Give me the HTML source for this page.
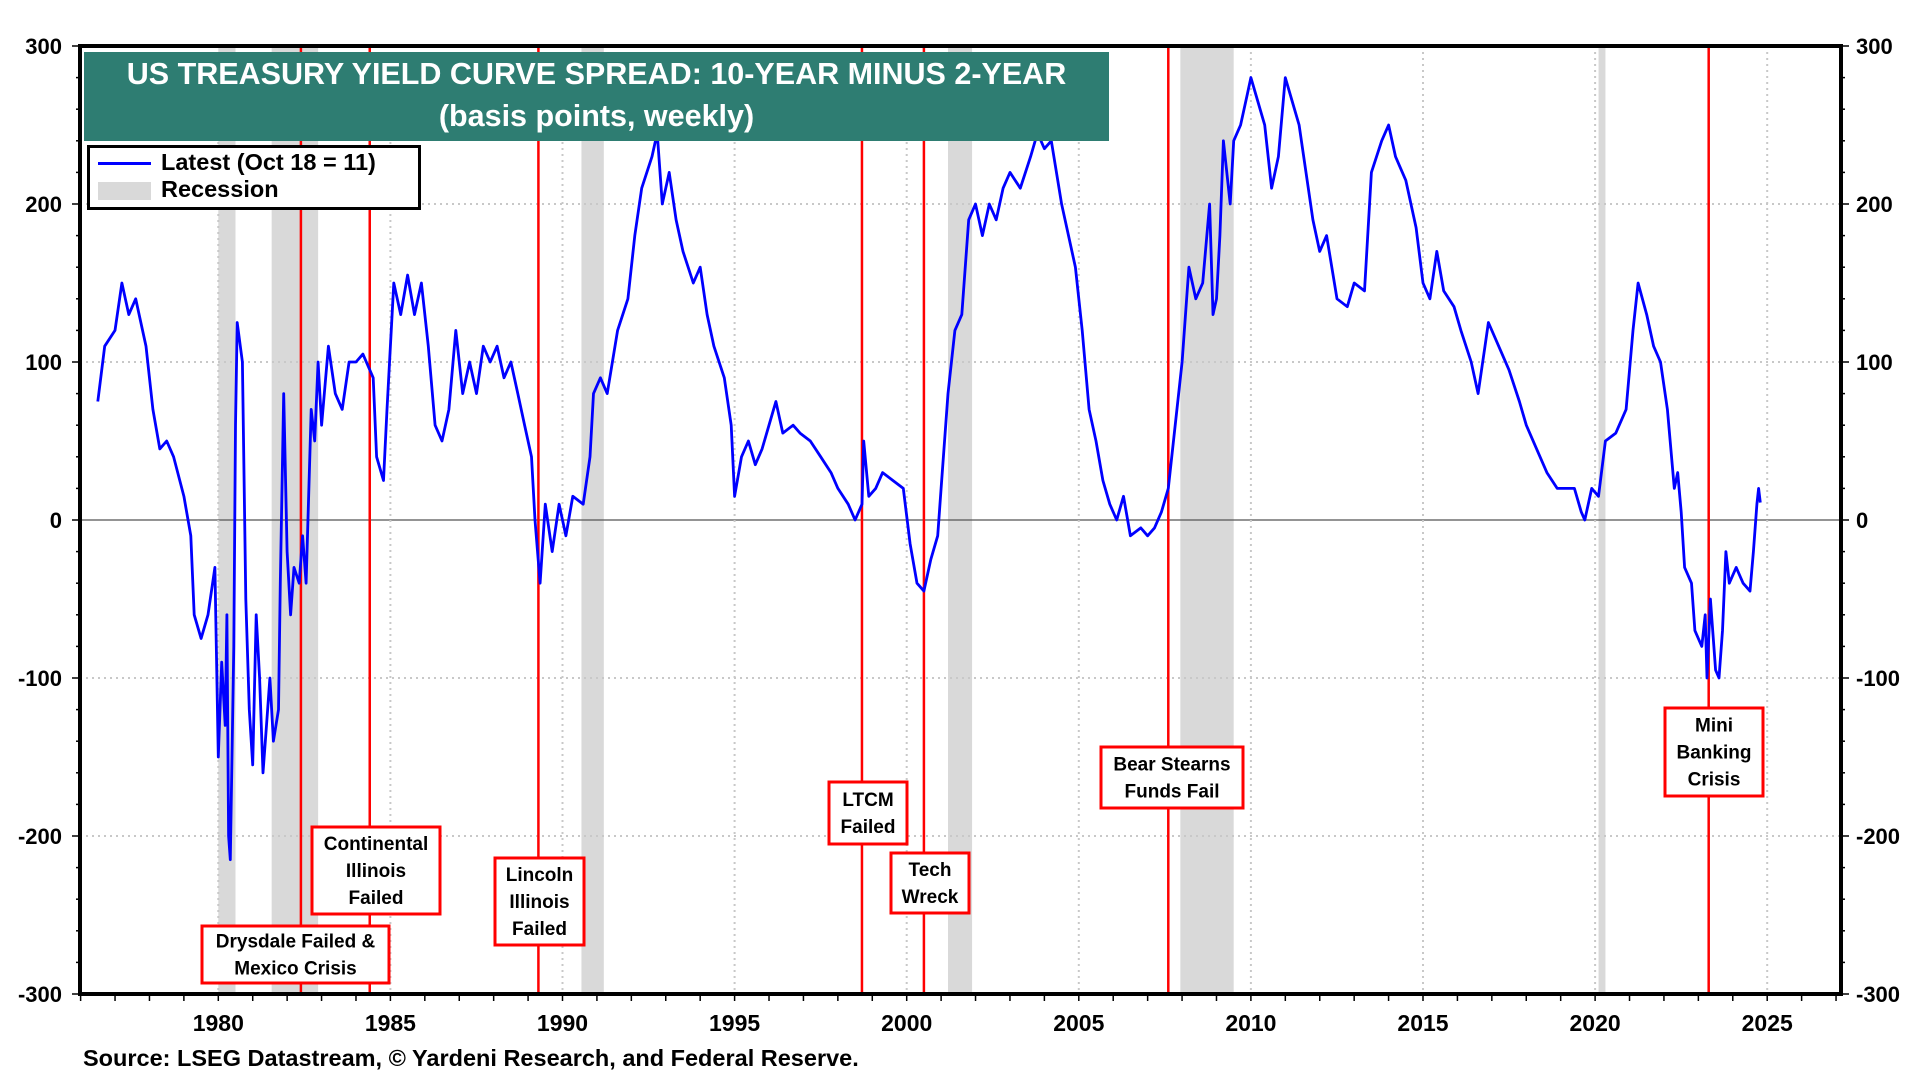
<!DOCTYPE html>
<html><head><meta charset="utf-8"><style>
html,body{margin:0;padding:0;background:#fff;width:1920px;height:1080px;overflow:hidden}
svg{display:block}
text{font-family:"Liberation Sans",Arial,sans-serif;font-weight:bold}
</style></head><body>
<svg id="chart" width="1920" height="1080"></svg>
<script>
const years=[1976.5,1976.7,1977.0,1977.2,1977.4,1977.6,1977.9,1978.1,1978.3,1978.5,1978.7,1979.0,1979.2,1979.3,1979.5,1979.7,1979.9,1980.0,1980.1,1980.2,1980.25,1980.3,1980.35,1980.45,1980.5,1980.55,1980.7,1980.8,1980.9,1981.0,1981.1,1981.2,1981.3,1981.4,1981.5,1981.6,1981.75,1981.8,1981.9,1982.0,1982.1,1982.2,1982.35,1982.45,1982.55,1982.7,1982.8,1982.9,1983.0,1983.2,1983.4,1983.6,1983.8,1984.0,1984.2,1984.5,1984.6,1984.8,1984.9,1985.1,1985.3,1985.5,1985.7,1985.9,1986.1,1986.3,1986.5,1986.7,1986.9,1987.1,1987.3,1987.5,1987.7,1987.9,1988.1,1988.3,1988.5,1988.7,1988.9,1989.1,1989.2,1989.35,1989.5,1989.7,1989.9,1990.1,1990.3,1990.6,1990.8,1990.9,1991.1,1991.3,1991.6,1991.9,1992.1,1992.3,1992.6,1992.75,1992.9,1993.1,1993.3,1993.5,1993.8,1994.0,1994.2,1994.4,1994.7,1994.9,1995.0,1995.2,1995.4,1995.6,1995.8,1996.0,1996.2,1996.4,1996.7,1996.9,1997.2,1997.5,1997.8,1998.0,1998.3,1998.5,1998.7,1998.75,1998.9,1999.1,1999.3,1999.6,1999.9,2000.1,2000.3,2000.5,2000.7,2000.9,2001.0,2001.2,2001.4,2001.6,2001.8,2002.0,2002.2,2002.4,2002.6,2002.8,2003.0,2003.3,2003.6,2003.8,2004.0,2004.2,2004.5,2004.7,2004.9,2005.1,2005.3,2005.5,2005.7,2005.9,2006.1,2006.3,2006.5,2006.8,2007.0,2007.2,2007.4,2007.6,2007.8,2008.0,2008.2,2008.4,2008.6,2008.8,2008.9,2009.0,2009.1,2009.2,2009.4,2009.5,2009.7,2009.9,2010.0,2010.2,2010.4,2010.6,2010.8,2011.0,2011.2,2011.4,2011.6,2011.8,2012.0,2012.2,2012.5,2012.8,2013.0,2013.3,2013.5,2013.8,2014.0,2014.2,2014.5,2014.8,2015.0,2015.2,2015.4,2015.6,2015.9,2016.1,2016.4,2016.6,2016.8,2016.9,2017.2,2017.5,2017.8,2018.0,2018.3,2018.6,2018.9,2019.1,2019.4,2019.6,2019.7,2019.9,2020.1,2020.3,2020.6,2020.9,2021.1,2021.25,2021.5,2021.7,2021.9,2022.1,2022.3,2022.4,2022.5,2022.6,2022.8,2022.9,2023.1,2023.2,2023.25,2023.35,2023.5,2023.6,2023.7,2023.8,2023.9,2024.1,2024.3,2024.5,2024.6,2024.7,2024.75,2024.8];
const spread=[75,110,120,150,130,140,110,70,45,50,40,15,-10,-60,-75,-60,-30,-150,-90,-130,-60,-200,-215,-80,60,125,100,-50,-120,-155,-60,-100,-160,-130,-100,-140,-120,-40,80,-20,-60,-30,-40,-10,-40,70,50,100,60,110,80,70,100,100,105,90,40,25,70,150,130,155,130,150,110,60,50,70,120,80,100,80,110,100,110,90,100,80,60,40,0,-40,10,-20,10,-10,15,10,40,80,90,80,120,140,180,210,230,245,200,220,190,170,150,160,130,110,90,60,15,40,50,35,45,60,75,55,60,55,50,40,30,20,10,0,10,50,15,20,30,25,20,-15,-40,-45,-25,-10,20,80,120,130,190,200,180,200,190,210,220,210,230,245,235,240,200,180,160,120,70,50,25,10,0,15,-10,-5,-10,-5,5,20,60,100,160,140,150,200,130,140,180,240,200,240,250,270,280,265,250,210,230,280,265,250,220,190,170,180,140,135,150,145,220,240,250,230,215,185,150,140,170,145,135,120,100,80,110,125,110,95,75,60,45,30,20,20,20,5,0,20,15,50,55,70,120,150,130,110,100,70,20,30,5,-30,-40,-70,-80,-60,-100,-50,-95,-100,-70,-20,-40,-30,-40,-45,-20,10,20,11];
const yTicks=[300,200,100,0,-100,-200,-300];
const xTicks=[1980,1985,1990,1995,2000,2005,2010,2015,2020,2025];
const recStart=[1980.0,1981.55,1990.55,2001.2,2007.95,2020.1];
const recEnd=[1980.5,1982.9,1991.2,2001.9,2009.5,2020.3];
const eventYears=[1982.4,1984.4,1989.3,1998.7,2000.5,2007.6,2023.3];
const eventLabels=[["Drysdale Failed &","Mexico Crisis"],["Continental","Illinois","Failed"],["Lincoln","Illinois","Failed"],["LTCM","Failed"],["Tech","Wreck"],["Bear Stearns","Funds Fail"],["Mini","Banking","Crisis"]];
const eventNames=['drysdale','continental-illinois','lincoln-illinois','ltcm','tech-wreck','bear-stearns','mini-banking-crisis'];
// annotation box layout (pixels)
const boxLayout=[[202,926,187,57],[312,827,128,87],[495,858,89,87],[829,782,78,62],[891,853,78,60],[1101,747,142,61],[1665,708,98,88]];

const L=80,R=1841,T=46,B=994;
const X=y=>218.3+(y-1980)*34.42;
const Y=v=>T+(300-v)*(B-T)/600;
const svg=document.getElementById('chart');
const NS='http://www.w3.org/2000/svg';
function mk(tag,attrs,parent){const e=document.createElementNS(NS,tag);for(const k in attrs)e.setAttribute(k,attrs[k]);(parent||svg).appendChild(e);return e;}

recStart.forEach((s,i)=>{const r=mk('rect',{x:X(s),y:T,width:X(recEnd[i])-X(s),height:B-T,fill:'#d9d9d9'});

});
yTicks.forEach(v=>{if(v===300||v===-300)return;const l=mk('line',{x1:L,x2:R,y1:Y(v),y2:Y(v),stroke:v===0?'#555':'#c8c8c8','stroke-width':v===0?1.2:2,'stroke-dasharray':v===0?'none':'2,4'});

});
xTicks.forEach(t=>{const l=mk('line',{x1:X(t),x2:X(t),y1:T,y2:B,stroke:'#c8c8c8','stroke-width':2,'stroke-dasharray':'2,4'});

});
eventYears.forEach((e,i)=>{const l=mk('line',{x1:X(e),x2:X(e),y1:T,y2:B,stroke:'#ff0000','stroke-width':2.5});

});
let d='';years.forEach((y,i)=>{d+=(i?'L':'M')+X(y).toFixed(1)+','+Y(spread[i]).toFixed(1);});
const p=mk('path',{d:d,fill:'none',stroke:'#0000ff','stroke-width':2.8,'stroke-linejoin':'round'});


eventYears.forEach((e,i)=>{const lines=eventLabels[i];const [bx,by,w,h]=boxLayout[i];const lh=27;const cx=bx+w/2;const top=by+h/2-(lines.length*lh)/2+20;
const g=mk('g',{});


mk('rect',{x:bx,y:by,width:w,height:h,fill:'#fff',stroke:'#ff0000','stroke-width':3},g);
lines.forEach((s,j)=>{const t=mk('text',{x:cx,y:top+j*lh,'text-anchor':'middle','font-size':19,fill:'#000'},g);t.textContent=s;});});
const fr=mk('rect',{x:L,y:T,width:R-L,height:B-T,fill:'none',stroke:'#000','stroke-width':4});


for(let v=-300;v<=300;v+=20){const major=v%100===0;mk('line',{x1:L-(major?8:4),x2:L,y1:Y(v),y2:Y(v),stroke:'#000','stroke-width':1.5});mk('line',{x1:R,x2:R+(major?8:4),y1:Y(v),y2:Y(v),stroke:'#000','stroke-width':1.5});}
yTicks.forEach(v=>{const a=mk('text',{x:62,y:Y(v)+8,'text-anchor':'end','font-size':22,fill:'#000'});a.textContent=v;


const b=mk('text',{x:1856,y:Y(v)+8,'text-anchor':'start','font-size':22,fill:'#000'});b.textContent=v;

});
for(let y=1976;y<=2027;y++){mk('line',{x1:X(y),x2:X(y),y1:B,y2:B+7,stroke:'#000','stroke-width':1.5});}
xTicks.forEach(t=>{const a=mk('text',{x:X(t),y:1031,'text-anchor':'middle','font-size':23,fill:'#000'});a.textContent=t;

});
</script>
<div style="position:absolute;left:84px;top:52px;width:1025px;height:89px;background:#2e7d72;color:#fff;font:bold 30.5px 'Liberation Sans',sans-serif;text-align:center;line-height:42px;padding-top:1px;box-sizing:border-box">US TREASURY YIELD CURVE SPREAD: 10-YEAR MINUS 2-YEAR<br>(basis points, weekly)</div>
<div style="position:absolute;left:87px;top:145px;width:334px;height:65px;border:3px solid #000;background:#fff;box-sizing:border-box;font:bold 23.5px 'Liberation Sans',sans-serif">
<div style="position:absolute;left:8px;top:1px;white-space:nowrap"><span style="display:inline-block;width:53px;height:3px;background:#0000ff;vertical-align:middle;margin-right:10px"></span>Latest (Oct 18 = 11)</div>
<div style="position:absolute;left:8px;top:28px;white-space:nowrap"><span style="display:inline-block;width:53px;height:18px;background:#d9d9d9;vertical-align:middle;margin-right:10px"></span>Recession</div>
</div>
<div style="position:absolute;left:83px;top:1045px;font:bold 23.5px 'Liberation Sans',sans-serif;color:#000">Source: LSEG Datastream, © Yardeni Research, and Federal Reserve.</div>
</body></html>
